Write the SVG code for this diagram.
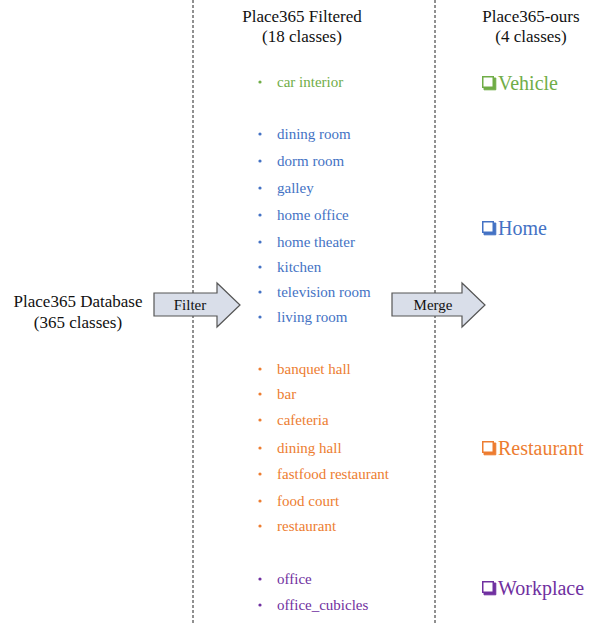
<svg xmlns="http://www.w3.org/2000/svg" width="596" height="623" viewBox="0 0 596 623">
<style>
text{font-family:"Liberation Serif","Times New Roman",serif;}
.hd{font-size:17px;fill:#111;text-anchor:middle;}
.lb{font-size:15px;fill:#111;text-anchor:middle;}
.it{font-size:15px;}
.cat{font-size:20px;}
.g{fill:#70ad47;}
.b{fill:#4472c4;}
.o{fill:#ed7d31;}
.p{fill:#7030a0;}
.arrow{fill:#d9dee9;stroke:#555;stroke-width:1.2;}
.dash{stroke:#222;stroke-width:1;stroke-dasharray:3,2;fill:none;}
</style>
<defs>
<g id="box">
<rect x="0.75" y="0.75" width="10.5" height="10.5" fill="none" stroke-width="1.5"/>
<path d="M2 12 H12 V2 H13.8 V13.8 H2 Z"/>
</g>
</defs>
<rect width="596" height="623" fill="#fff"/>
<g id="connectors">
<line class="dash" x1="193" y1="0" x2="193" y2="623"/>
<line class="dash" x1="435" y1="0" x2="435" y2="623"/>
</g>
<g id="headers">
<text class="hd" x="302" y="22">Place365 Filtered</text>
<text class="hd" x="302" y="42">(18 classes)</text>
<text class="hd" x="531" y="22">Place365-ours</text>
<text class="hd" x="531" y="42">(4 classes)</text>
</g>
<g id="database">
<text class="hd" x="78" y="307">Place365 Database</text>
<text class="hd" x="78" y="328">(365 classes)</text>
</g>
<g id="filter">
<path class="arrow" d="M154 293 H217 V283 L240 305 L217 327 V316 H154 Z"/>
<text class="lb" x="190" y="310">Filter</text>
</g>
<g id="merge">
<path class="arrow" d="M392 293 H462 V283 L485 305 L462 327 V316 H392 Z"/>
<text class="lb" x="433" y="310">Merge</text>
</g>
<g id="filtered-list">
<g class="g"><circle cx="260" cy="82" r="1.6"/><text class="it" x="277" y="87">car interior</text></g>
<g class="b">
<circle cx="260" cy="134" r="1.6"/><text class="it" x="277" y="139">dining room</text>
<circle cx="260" cy="161" r="1.6"/><text class="it" x="277" y="166">dorm room</text>
<circle cx="260" cy="188" r="1.6"/><text class="it" x="277" y="193">galley</text>
<circle cx="260" cy="215" r="1.6"/><text class="it" x="277" y="220">home office</text>
<circle cx="260" cy="242" r="1.6"/><text class="it" x="277" y="247">home theater</text>
<circle cx="260" cy="267" r="1.6"/><text class="it" x="277" y="272">kitchen</text>
<circle cx="260" cy="292" r="1.6"/><text class="it" x="277" y="297">television room</text>
<circle cx="260" cy="317" r="1.6"/><text class="it" x="277" y="322">living room</text>
</g>
<g class="o">
<circle cx="260" cy="369" r="1.6"/><text class="it" x="277" y="374">banquet hall</text>
<circle cx="260" cy="394" r="1.6"/><text class="it" x="277" y="399">bar</text>
<circle cx="260" cy="420" r="1.6"/><text class="it" x="277" y="425">cafeteria</text>
<circle cx="260" cy="448" r="1.6"/><text class="it" x="277" y="453">dining hall</text>
<circle cx="260" cy="474" r="1.6"/><text class="it" x="277" y="479">fastfood restaurant</text>
<circle cx="260" cy="501" r="1.6"/><text class="it" x="277" y="506">food court</text>
<circle cx="260" cy="526" r="1.6"/><text class="it" x="277" y="531">restaurant</text>
</g>
<g class="p">
<circle cx="260" cy="579" r="1.6"/><text class="it" x="277" y="584">office</text>
<circle cx="260" cy="605" r="1.6"/><text class="it" x="277" y="610">office_cubicles</text>
</g>
</g>
<g id="vehicle" class="g">
<use href="#box" x="482" y="76" stroke="#70ad47"/>
<text class="cat" x="498" y="90">Vehicle</text>
</g>
<g id="home" class="b">
<use href="#box" x="482" y="221" stroke="#4472c4"/>
<text class="cat" x="498" y="235">Home</text>
</g>
<g id="restaurant" class="o">
<use href="#box" x="482" y="441" stroke="#ed7d31"/>
<text class="cat" x="498" y="455">Restaurant</text>
</g>
<g id="workplace" class="p">
<use href="#box" x="482" y="581" stroke="#7030a0"/>
<text class="cat" x="498" y="595">Workplace</text>
</g>
</svg>
